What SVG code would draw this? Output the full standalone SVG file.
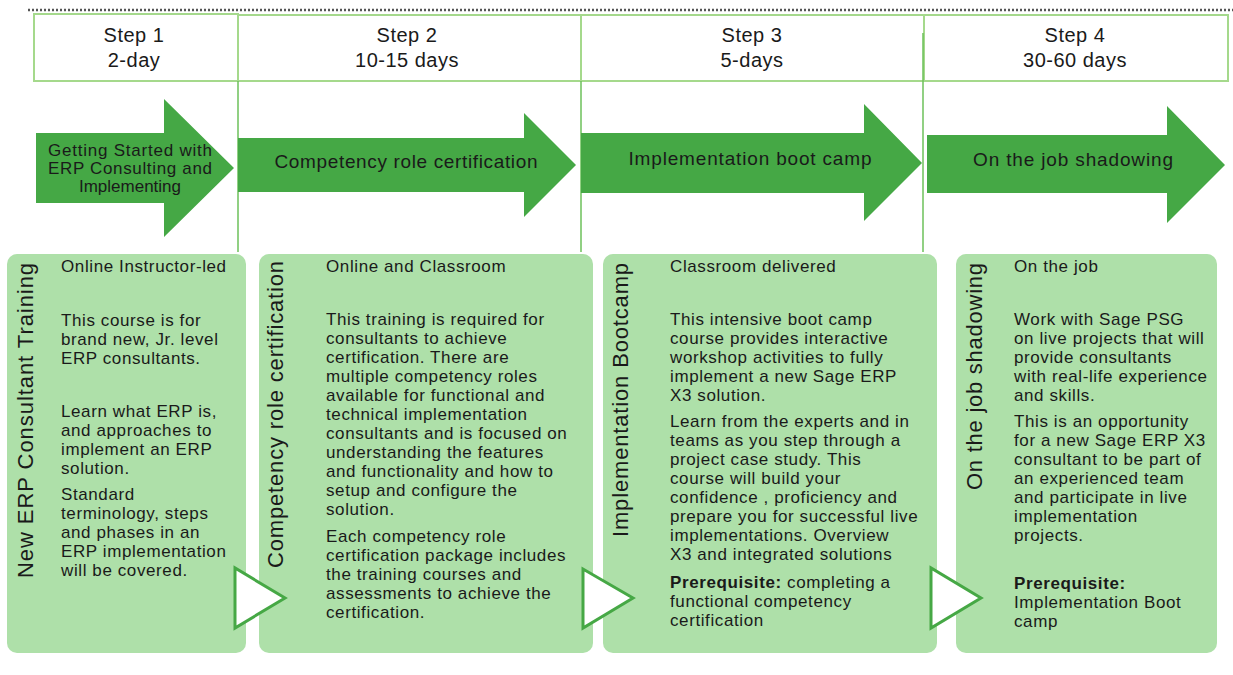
<svg xmlns="http://www.w3.org/2000/svg" width="1233" height="675" viewBox="0 0 1233 675">
<style>
text{font-family:"Liberation Sans",Arial,sans-serif;fill:#1a1a1a}
.hdr{fill:none;stroke:#a5d98c;stroke-width:2}
.hdrt{font-size:20px;text-anchor:middle;letter-spacing:0.5px}
.arrow{fill:#45a845}
.at{font-size:19px;text-anchor:middle}
.at1{font-size:17px;text-anchor:middle}
.panel{fill:#aee0a9}
.vt{font-size:22px;letter-spacing:0.9px}
.b{font-size:17px;letter-spacing:0.6px}
.div{stroke:#6cc05a;stroke-width:1.5}
.tri{fill:#ffffff;stroke:#46a845;stroke-width:3;stroke-linejoin:miter}
</style>
<rect width="1233" height="675" fill="#ffffff"/>
<line x1="28" y1="10" x2="1233" y2="10" stroke="#555" stroke-width="2.5" stroke-dasharray="2,2"/>

<g id="headers">
<g id="step1"><rect class="hdr" x="34" y="14" width="204" height="67"/><text class="hdrt" x="134" y="42">Step 1</text><text class="hdrt" x="134" y="67">2-day</text></g>
<g id="step2"><rect class="hdr" x="238" y="15" width="343" height="66"/><text class="hdrt" x="407" y="42">Step 2</text><text class="hdrt" x="407" y="67">10-15 days</text></g>
<g id="step3"><rect class="hdr" x="581" y="15" width="343" height="66"/><text class="hdrt" x="752" y="42">Step 3</text><text class="hdrt" x="752" y="67">5-days</text></g>
<g id="step4"><rect class="hdr" x="924" y="15" width="304" height="66"/><text class="hdrt" x="1075" y="42">Step 4</text><text class="hdrt" x="1075" y="67">30-60 days</text></g>
</g>

<g id="dividers">
<line class="div" x1="238" y1="81" x2="238" y2="252"/>
<line class="div" x1="581" y1="81" x2="581" y2="252"/>
<line class="div" x1="923" y1="33" x2="923" y2="252"/>
</g>

<g id="arrow1"><polygon class="arrow" points="36,133 164,133 164,99 234,168 164,237 164,203 36,203"/>
<text class="at1" x="130" y="156" textLength="164" lengthAdjust="spacing">Getting Started with</text>
<text class="at1" x="130" y="174" textLength="164" lengthAdjust="spacing">ERP  Consulting and</text>
<text class="at1" x="130" y="192">Implementing</text></g>
<g id="arrow2"><polygon class="arrow" points="238,138 524,138 524,113 576,165 524,217 524,192 238,192"/>
<text class="at" x="406" y="168" textLength="263" lengthAdjust="spacing">Competency role certification</text></g>
<g id="arrow3"><polygon class="arrow" points="581,133 864,133 864,104 922,163 864,221 864,193 581,193"/>
<text class="at" x="750" y="165" textLength="243" lengthAdjust="spacing">Implementation boot camp</text></g>
<g id="arrow4"><polygon class="arrow" points="927,135 1167,135 1167,106 1225,165 1167,223 1167,193 927,193"/>
<text class="at" x="1073" y="166" textLength="200" lengthAdjust="spacing">On the job shadowing</text></g>

<g id="panel1"><rect class="panel" x="7" y="254" width="239" height="399" rx="10"/>
<text class="vt" transform="translate(33,578) rotate(-90)" textLength="316" lengthAdjust="spacing">New  ERP  Consultant Training</text>
<text class="b" x="61" y="272">Online  Instructor-led</text>
<text class="b" x="61" y="326">This course is for</text>
<text class="b" x="61" y="345">brand new, Jr. level</text>
<text class="b" x="61" y="364">ERP  consultants.</text>
<text class="b" x="61" y="417">Learn what ERP is,</text>
<text class="b" x="61" y="436">and approaches to</text>
<text class="b" x="61" y="455">implement  an ERP</text>
<text class="b" x="61" y="474">solution.</text>
<text class="b" x="61" y="500">Standard</text>
<text class="b" x="61" y="519">terminology, steps</text>
<text class="b" x="61" y="538">and phases in an</text>
<text class="b" x="61" y="557">ERP  implementation</text>
<text class="b" x="61" y="576">will be covered.</text>
</g>

<g id="panel2"><rect class="panel" x="259" y="254" width="334" height="399" rx="10"/>
<text class="vt" transform="translate(283,568) rotate(-90)" textLength="308" lengthAdjust="spacing">Competency role certification</text>
<text class="b" x="326" y="272">Online  and Classroom</text>
<text class="b" x="326" y="325">This training is required for</text>
<text class="b" x="326" y="344">consultants to achieve</text>
<text class="b" x="326" y="363">certification.  There are</text>
<text class="b" x="326" y="382">multiple  competency roles</text>
<text class="b" x="326" y="401">available  for functional and</text>
<text class="b" x="326" y="420">technical implementation</text>
<text class="b" x="326" y="439">consultants and is focused on</text>
<text class="b" x="326" y="458">understanding the features</text>
<text class="b" x="326" y="477">and functionality and how to</text>
<text class="b" x="326" y="496">setup and configure the</text>
<text class="b" x="326" y="515">solution.</text>
<text class="b" x="326" y="542">Each  competency role</text>
<text class="b" x="326" y="561">certification package includes</text>
<text class="b" x="326" y="580">the training  courses and</text>
<text class="b" x="326" y="599">assessments to achieve the</text>
<text class="b" x="326" y="618">certification.</text>
</g>

<g id="panel3"><rect class="panel" x="603" y="254" width="334" height="399" rx="10"/>
<text class="vt" transform="translate(628,537) rotate(-90)" textLength="275" lengthAdjust="spacing">Implementation  Bootcamp</text>
<text class="b" x="670" y="272">Classroom  delivered</text>
<text class="b" x="670" y="325">This intensive boot camp</text>
<text class="b" x="670" y="344">course provides interactive</text>
<text class="b" x="670" y="363">workshop activities to fully</text>
<text class="b" x="670" y="382">implement  a new Sage ERP</text>
<text class="b" x="670" y="401">X3 solution.</text>
<text class="b" x="670" y="427">Learn  from the experts and in</text>
<text class="b" x="670" y="446">teams   as you step through a</text>
<text class="b" x="670" y="465">project case study.  This</text>
<text class="b" x="670" y="484">course will build your</text>
<text class="b" x="670" y="503">confidence , proficiency and</text>
<text class="b" x="670" y="522">prepare you  for successful live</text>
<text class="b" x="670" y="541">implementations.    Overview</text>
<text class="b" x="670" y="560">X3 and integrated  solutions</text>
<text class="b" x="670" y="588"><tspan font-weight="bold">Prerequisite:</tspan> completing a</text>
<text class="b" x="670" y="607">functional competency</text>
<text class="b" x="670" y="626">certification</text>
</g>

<g id="panel4"><rect class="panel" x="956" y="254" width="261" height="399" rx="10"/>
<text class="vt" transform="translate(982,490) rotate(-90)" textLength="228" lengthAdjust="spacing">On the job shadowing</text>
<text class="b" x="1014" y="272">On the job</text>
<text class="b" x="1014" y="325">Work with Sage PSG</text>
<text class="b" x="1014" y="344">on live projects that will</text>
<text class="b" x="1014" y="363">provide consultants</text>
<text class="b" x="1014" y="382">with real-life experience</text>
<text class="b" x="1014" y="401">and skills.</text>
<text class="b" x="1014" y="427">This is an opportunity</text>
<text class="b" x="1014" y="446">for a new Sage ERP  X3</text>
<text class="b" x="1014" y="465">consultant to be part of</text>
<text class="b" x="1014" y="484">an experienced  team</text>
<text class="b" x="1014" y="503">and participate in  live</text>
<text class="b" x="1014" y="522">implementation</text>
<text class="b" x="1014" y="541">projects.</text>
<text class="b" x="1014" y="589" font-weight="bold">Prerequisite:</text>
<text class="b" x="1014" y="608">Implementation  Boot</text>
<text class="b" x="1014" y="627">camp</text>
</g>

<g id="connectors">
<polygon class="tri" points="235,568 235,628 285,598"/>
<polygon class="tri" points="583,569 583,628 633,598"/>
<polygon class="tri" points="931,568 931,628 981,598"/>
</g>
</svg>
